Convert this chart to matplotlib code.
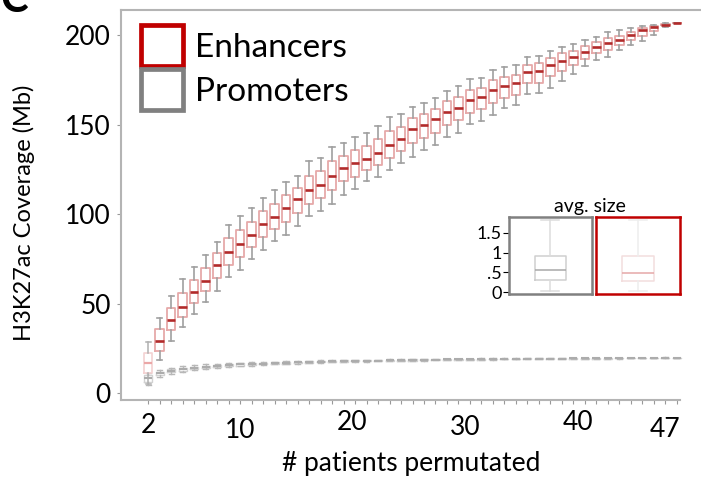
import numpy as np
import matplotlib.pyplot as plt
from matplotlib.patches import Patch
from matplotlib.transforms import ScaledTranslation

plt.rcParams['font.family'] = ['Lato', 'DejaVu Sans']

# boxes drawn for each permutation size
n_patients = np.arange(2, 49)

enh_med = [16.8, 29.3, 40.9, 48.3, 56.4, 62.9, 71.5, 78.8, 83.3, 88.6, 94.5, 98.6, 103.6, 108.3, 113.7,
           116.3, 121.2, 125.9, 128.7, 130.9, 134.4, 138.4, 142.1, 147.3, 149.8, 152.9, 157.0, 159.1,
           163.6, 165.4, 169.2, 171.4, 173.1, 179.3, 179.8, 183.2, 185.4, 188.0, 190.5, 193.1, 195.7,
           197.2, 200.2, 202.8, 204.6, 205.7, 206.5]
enh_q1 = [11.2, 23.5, 35.3, 42.4, 50.2, 56.8, 64.2, 71.7, 76.0, 81.4, 87.0, 91.7, 95.8, 100.7, 105.9,
          108.9, 113.7, 118.4, 121.0, 124.4, 127.3, 131.5, 135.2, 139.5, 142.7, 145.4, 149.8, 152.4,
          156.7, 158.5, 161.9, 165.0, 166.6, 173.1, 173.5, 176.9, 179.8, 183.2, 186.9, 189.8, 191.8,
          194.5, 197.0, 199.6, 202.4, 205.4, 206.5]
enh_q3 = [22.4, 35.9, 47.8, 55.9, 63.3, 70.0, 78.2, 86.4, 90.9, 95.8, 101.6, 105.9, 110.7, 114.6, 121.2,
          123.8, 129.4, 132.4, 135.6, 138.0, 141.7, 146.4, 148.6, 153.5, 156.1, 158.9, 163.0, 165.3,
          169.3, 170.6, 174.8, 176.6, 177.8, 183.4, 184.2, 187.1, 189.8, 191.2, 194.0, 195.9, 198.3,
          199.6, 201.9, 203.7, 205.2, 206.3, 206.5]
enh_lo = [5.0, 18.5, 29.3, 36.8, 44.3, 50.8, 57.1, 64.8, 68.9, 75.1, 79.7, 84.8, 88.5, 93.6, 98.8,
          102.0, 105.9, 110.9, 114.0, 118.4, 120.7, 124.5, 128.3, 132.0, 135.7, 138.5, 143.0, 145.4,
          150.1, 151.8, 155.6, 159.0, 160.8, 167.3, 167.7, 170.6, 174.2, 178.0, 182.8, 186.0, 187.9,
          191.6, 194.6, 196.5, 200.2, 204.6, 206.5]
enh_hi = [28.6, 42.0, 54.5, 63.7, 70.4, 77.3, 84.4, 94.1, 99.2, 103.5, 109.0, 113.5, 118.2, 121.2, 129.4,
          131.5, 137.6, 139.5, 143.2, 145.1, 149.2, 154.4, 155.7, 159.8, 162.3, 164.9, 169.0, 171.6,
          175.4, 175.9, 180.4, 181.9, 183.2, 187.9, 188.4, 191.2, 193.1, 195.0, 197.0, 199.2, 201.5,
          202.8, 203.9, 204.9, 205.8, 206.5, 206.5]

pro_med = [8.2, 11.0, 12.5, 13.4, 14.1, 14.7, 15.3, 15.6, 16.0, 16.2, 16.5, 16.8, 17.0, 17.2, 17.4,
           17.6, 17.7, 17.9, 18.0, 18.1, 18.2, 18.3, 18.4, 18.5, 18.6, 18.7, 18.8, 18.8, 18.9, 19.0,
           19.0, 19.1, 19.1, 19.2, 19.2, 19.3, 19.3, 19.4, 19.4, 19.5, 19.5, 19.5, 19.6, 19.6, 19.6,
           19.7, 19.7]
pro_q1 = [6.3, 10.0, 11.6, 12.6, 13.4, 14.0, 14.7, 15.0, 15.4, 15.7, 16.0, 16.3, 16.5, 16.8, 17.0,
          17.2, 17.3, 17.5, 17.7, 17.8, 17.9, 18.0, 18.1, 18.2, 18.3, 18.4, 18.5, 18.5, 18.6, 18.7,
          18.8, 18.9, 18.9, 19.0, 19.0, 19.1, 19.1, 19.2, 19.2, 19.3, 19.3, 19.4, 19.5, 19.5, 19.5,
          19.6, 19.7]
pro_q3 = [10.0, 12.0, 13.4, 14.2, 14.8, 15.4, 15.9, 16.2, 16.6, 16.8, 17.0, 17.3, 17.5, 17.6, 17.8,
          18.0, 18.1, 18.3, 18.3, 18.4, 18.5, 18.6, 18.7, 18.8, 18.9, 19.0, 19.1, 19.1, 19.2, 19.3,
          19.3, 19.3, 19.3, 19.4, 19.4, 19.5, 19.5, 19.6, 19.6, 19.7, 19.7, 19.7, 19.7, 19.7, 19.7,
          19.8, 19.7]
pro_lo = [4.5, 9.0, 10.8, 11.9, 12.8, 13.5, 14.2, 14.6, 15.0, 15.3, 15.6, 16.0, 16.2, 16.5, 16.7,
          16.9, 17.1, 17.3, 17.5, 17.6, 17.7, 17.8, 17.9, 18.0, 18.2, 18.3, 18.4, 18.4, 18.5, 18.6,
          18.7, 18.8, 18.8, 18.9, 18.9, 19.0, 19.0, 19.1, 19.1, 19.2, 19.2, 19.3, 19.4, 19.4, 19.4,
          19.5, 19.6]
pro_hi = [11.4, 12.8, 14.2, 14.9, 15.5, 16.0, 16.4, 16.7, 17.0, 17.2, 17.4, 17.6, 17.8, 17.9, 18.1,
          18.3, 18.4, 18.5, 18.6, 18.6, 18.7, 18.8, 18.9, 19.0, 19.1, 19.2, 19.2, 19.2, 19.3, 19.4,
          19.4, 19.4, 19.4, 19.5, 19.5, 19.6, 19.6, 19.7, 19.7, 19.8, 19.8, 19.8, 19.8, 19.8, 19.8,
          19.9, 19.8]

xtick_vals = [2, 10, 20, 30, 40, 47]
xtick_shift = [(0, 0), (0, -5), (-3, 3), (-5, -2), (-7, 3), (0, -4)]  # label nudges in px
ytick_vals = [0, 50, 100, 150, 200]

# average element size (Mb), promoters vs enhancers
avg_labels = ['Promoters', 'Enhancers']
avg_med = [0.56, 0.48]
avg_q1 = [0.30, 0.28]
avg_q3 = [0.90, 0.90]
avg_lo = [0.03, 0.03]
avg_hi = [1.82, 1.82]
inset_ticks = [0, 0.5, 1, 1.5]
inset_ticklabels = ['0', '.5', '1', '1.5']

RED = '#c00000'
GREY = '#808080'


def stats(med, q1, q3, lo, hi):
    return [dict(med=m, q1=a, q3=b, whislo=l, whishi=h, fliers=[])
            for m, a, b, l, h in zip(med, q1, q3, lo, hi)]


fig = plt.figure(figsize=(7.01, 4.78), dpi=100)
ax = fig.add_axes([0.172, 0.163, 0.828, 0.816])

pro_stats = stats(pro_med, pro_q1, pro_q3, pro_lo, pro_hi)
ax.bxp(pro_stats, positions=n_patients, widths=0.7, capwidths=0.45, showfliers=False,
       boxprops=dict(color='#d2d2d2', lw=1.0),
       medianprops=dict(color='#acacac', lw=1.5),
       whiskerprops=dict(color='#b8b8b8', lw=1.0),
       capprops=dict(color='#b8b8b8', lw=1.0))

enh_stats = stats(enh_med, enh_q1, enh_q3, enh_lo, enh_hi)
# first permutation drawn faded
ax.bxp(enh_stats[:1], positions=n_patients[:1], widths=0.75, capwidths=0.45, showfliers=False,
       boxprops=dict(color='#f4d2d2', lw=1.2),
       medianprops=dict(color='#eba7a7', lw=1.6),
       whiskerprops=dict(color='#b0b0b0', lw=1.1),
       capprops=dict(color='#b0b0b0', lw=1.1))
ax.bxp(enh_stats[1:], positions=n_patients[1:], widths=0.75, capwidths=0.45, showfliers=False,
       boxprops=dict(color='#e6a9a9', lw=1.3),
       medianprops=dict(color='#b22a2a', lw=1.9),
       whiskerprops=dict(color='#a0a0a0', lw=1.2),
       capprops=dict(color='#a0a0a0', lw=1.2))

ax.set_xlim(-0.4, 50.1)
ax.set_ylim(-3.9, 214)
ax.spines['right'].set_visible(False)
for side in ['left', 'bottom', 'top']:
    ax.spines[side].set_color('#b4b4b4')
    ax.spines[side].set_linewidth(1.5)
ax.spines['bottom'].set_bounds(-0.4, 48.3)

ax.set_xticks(n_patients, minor=True)
ax.set_xticks(xtick_vals)
ax.set_xticklabels([str(v) for v in xtick_vals])
ax.tick_params(axis='x', which='both', length=3, width=0.8, color='#999999')
ax.tick_params(axis='x', which='major', labelsize=19, pad=6)
for lab, (dx, dy) in zip(ax.get_xticklabels(), xtick_shift):
    lab.set_transform(lab.get_transform() + ScaledTranslation(dx / 100, dy / 100, fig.dpi_scale_trans))

ax.set_yticks(ytick_vals)
ax.tick_params(axis='y', length=3, width=0.8, color='#999999', labelsize=19, pad=4)

ax.set_xlabel('# patients permutated', fontsize=19, labelpad=6)
ax.set_ylabel('H3K27ac Coverage (Mb)', fontsize=17, labelpad=6)
ax.yaxis.set_label_coords(-0.148, 0.48)

handles = [Patch(facecolor='white', edgecolor=RED, lw=3.4, label='Enhancers'),
           Patch(facecolor='white', edgecolor=GREY, lw=3.4, label='Promoters')]
ax.legend(handles=handles, loc='upper left', frameon=False, fontsize=24,
          handlelength=1.25, handleheight=1.5, handletextpad=0.35, labelspacing=0.1,
          borderaxespad=0.0, bbox_to_anchor=(0.013, 0.995))

fig.text(0.0, 1.0, 'C', fontsize=30, fontweight='bold', ha='left', va='center')

# inset: average element size
in_ax = [fig.add_axes([0.726, 0.385, 0.118, 0.161]),
         fig.add_axes([0.850, 0.385, 0.120, 0.161])]
avg_stats = stats(avg_med, avg_q1, avg_q3, avg_lo, avg_hi)
styles = [dict(edge='#cfcfcf', med='#a8a8a8', whis='#dcdcdc', frame=GREY),
          dict(edge='#f3dede', med='#e6a8a8', whis='#eeeeee', frame=RED)]
for a, st, sty in zip(in_ax, avg_stats, styles):
    a.bxp([st], positions=[0], widths=0.38, capwidths=0.22, showfliers=False,
          boxprops=dict(color=sty['edge'], lw=1.1),
          medianprops=dict(color=sty['med'], lw=1.1),
          whiskerprops=dict(color=sty['whis'], lw=1.1),
          capprops=dict(color=sty['whis'], lw=1.1))
    a.set_xlim(-0.5, 0.5)
    a.set_ylim(-0.04, 1.89)
    a.set_xticks([])
    for s in a.spines.values():
        s.set_color(sty['frame'])
        s.set_linewidth(1.8)
in_ax[0].set_yticks(inset_ticks)
in_ax[0].set_yticklabels(inset_ticklabels)
in_ax[0].tick_params(axis='y', length=4, width=0.8, labelsize=13, pad=1)
in_ax[1].set_yticks([])
fig.text(0.842, 0.569, 'avg. size', fontsize=14, ha='center', va='center')

fig.savefig('out.png', dpi=100)
